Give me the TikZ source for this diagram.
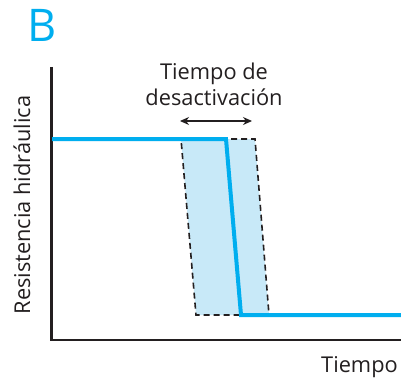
\documentclass[tikz,border=0pt]{standalone}
\usepackage{fontspec}
\setmainfont{Open Sans}
\usetikzlibrary{arrows.meta}
\definecolor{cyanline}{HTML}{00AEEF}
\definecolor{lightfill}{HTML}{C8E9F8}
\definecolor{txt}{HTML}{231F20}
\tikzset{
  axis/.style={line width=2.2pt, draw=txt},
  curve/.style={line width=4pt, draw=cyanline, line join=miter},
  band/.style={fill=lightfill, draw=txt, line width=1.6pt, dash pattern=on 6pt off 4pt},
  lbl/.style={text=txt, font=\fontsize{21.8}{26}\selectfont, inner sep=0pt},
}
\begin{document}
\begin{tikzpicture}[x=1pt,y=-1pt]
\useasboundingbox (0,0) rectangle (401,377);
\fill[white] (0,0) rectangle (401,377);
% band
\coordinate (p1) at (181,139);
\coordinate (p2) at (255,139);
\coordinate (p3) at (269,315);
\coordinate (p4) at (196,315);
\path[band] (p1) -- (p2) -- (p3) -- (p4) -- cycle;
% axes
\coordinate (o) at (51.5,340);
\coordinate (ytop) at (51.5,67);
\coordinate (xend) at (401,340);
\draw[axis] (ytop) -- (o) -- (xend);
% curve
\coordinate (c0) at (52,139);
\coordinate (c1) at (226,139);
\coordinate (c2) at (241,315);
\coordinate (c3) at (401,315);
\draw[curve] (c0) -- (c1) -- (c2) -- (c3);
% arrow
\coordinate (a1) at (180,121);
\coordinate (a2) at (252,121);
\draw[txt, line width=1.3pt, {Stealth[length=9pt,width=8pt]}-{Stealth[length=9pt,width=8pt]}] (a1) -- (a2);
% texts
\node[lbl, anchor=base] (t1) at (214,80) {Tiempo de};
\node[lbl, anchor=base] (t2) at (214,106) {desactivación};
\node[lbl, anchor=base east] (tx) at (398,372) {Tiempo};
\node[lbl, rotate=90, anchor=base] (ty) at (30,205) {Resistencia hidráulica};
\node[text=cyanline, font=\fontsize{45}{50}\selectfont, inner sep=0pt, anchor=base west] (B) at (27,42) {B};
\end{tikzpicture}
\end{document}
